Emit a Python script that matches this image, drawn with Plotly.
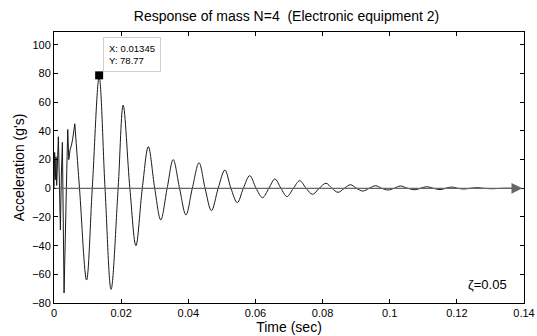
import plotly.graph_objects as go

# Early irregular transient
t_early = [0.0000, 0.0002, 0.0004, 0.0006, 0.0008, 0.0010, 0.0013, 0.0016, 0.0019,
           0.0022, 0.0025, 0.0030, 0.0034, 0.0038, 0.0041, 0.0044, 0.0048, 0.0052,
           0.0056, 0.0062]
a_early = [0, 25, 6, 22, 2, 18, 36, 5, -29, 10, 32, -73, -20, 12, 41, 20, 27, 30,
           35, 45]

# Damped oscillation: extrema and zero crossings
t_main = [0.0062, 0.0076, 0.0097, 0.0114, 0.01345, 0.0152, 0.0170, 0.0191, 0.0206,
          0.0226, 0.0244, 0.0263, 0.0281, 0.0300, 0.0318, 0.0337, 0.0355, 0.0374,
          0.0393, 0.0412, 0.0432, 0.0450, 0.0469, 0.0489, 0.0509, 0.0527, 0.0546,
          0.0564, 0.0583, 0.0602, 0.0621, 0.0640, 0.0658, 0.0676, 0.0694, 0.0713,
          0.0732, 0.0751, 0.0770, 0.0790, 0.0810, 0.0828, 0.0846, 0.0865, 0.0883,
          0.0901, 0.0920, 0.0939, 0.0958, 0.0976, 0.0995, 0.1013, 0.1032, 0.1053,
          0.1075, 0.1092, 0.1110, 0.1130, 0.1150, 0.1167, 0.1184, 0.1202, 0.1220,
          0.1240, 0.1260, 0.1280, 0.1300, 0.1340, 0.1385]
a_main = [45, 0, -64, 0, 77.5, 0, -70.5, 0, 58, 0, -40, 0, 29, 0, -22, 0, 20, 0,
          -18.6, 0, 17.8, 0, -15.6, 0, 12.7, 0, -10, 0, 8.8, 0, -6.5, 0, 6.5, 0,
          -5.8, 0, 5.3, 0, -4.2, 0, 3.5, 0, -2.8, 0, 2.5, 0, -1.9, 0, 1.8, 0,
          -1.2, 0, 1.6, 0, -1.0, 0, 1.1, 0, -0.9, 0, 0.9, 0, -0.5, 0, 0.4, 0,
          -0.3, 0, 0]

peak_t = 0.01345
peak_a = 78.77

x_ticks = [0, 0.02, 0.04, 0.06, 0.08, 0.1, 0.12, 0.14]
x_labels = ["0", "0.02", "0.04", "0.06", "0.08", "0.1", "0.12", "0.14"]
y_ticks = [-80, -60, -40, -20, 0, 20, 40, 60, 80, 100]

FONT = "Liberation Sans, Arial, sans-serif"

fig = go.Figure()
fig.add_trace(go.Scatter(x=t_early, y=a_early, mode="lines",
                         line=dict(color="#1a1a1a", width=1), hoverinfo="skip"))
fig.add_trace(go.Scatter(x=t_main, y=a_main, mode="lines",
                         line=dict(color="#1a1a1a", width=1, shape="spline",
                                   smoothing=1.0), hoverinfo="skip"))
fig.add_trace(go.Scatter(x=[peak_t], y=[peak_a], mode="markers",
                         marker=dict(symbol="square", size=8, color="black"),
                         hoverinfo="skip"))

# zero axis arrow
fig.add_annotation(x=0.1395, y=0, ax=0, ay=0, xref="x", yref="y",
                   axref="x", ayref="y", text="", showarrow=True,
                   arrowhead=2, arrowsize=1.8, arrowwidth=1.2,
                   arrowcolor="#666666")

# data tip
fig.add_annotation(x=0.0145, y=105.5, xref="x", yref="y", xanchor="left",
                   yanchor="top", showarrow=False,
                   text="X: 0.01345<br>Y: 78.77", align="left",
                   font=dict(family=FONT, size=9.5, color="black"),
                   bgcolor="white", bordercolor="#d0d0d0", borderwidth=1,
                   borderpad=5)

fig.add_annotation(x=0.1354, y=-67, xref="x", yref="y", xanchor="right",
                   yanchor="middle", showarrow=False, text="ζ=0.05",
                   font=dict(family=FONT, size=13, color="black"))

fig.update_layout(
    width=537, height=336,
    margin=dict(l=54, r=13, t=32, b=33),
    paper_bgcolor="white", plot_bgcolor="white",
    showlegend=False,
    title=dict(text="Response of mass N=4  (Electronic equipment 2)",
               x=0.5335, xanchor="center", y=0.952, yanchor="middle",
               font=dict(family=FONT, size=14, color="black")),
    font=dict(family=FONT, size=11, color="black"),
)
fig.update_xaxes(range=[0, 0.14], tickvals=x_ticks, ticktext=x_labels,
                 ticks="inside", ticklen=4, tickcolor="black",
                 showline=True, linecolor="black", linewidth=1, mirror="ticks",
                 showgrid=False, zeroline=False, automargin=False,
                 title=dict(text="Time (sec)", standoff=2,
                            font=dict(family=FONT, size=14)),
                 tickfont=dict(family=FONT, size=11))
fig.update_yaxes(range=[-80, 109], tickvals=y_ticks,
                 ticks="inside", ticklen=4, tickcolor="black",
                 showline=True, linecolor="black", linewidth=1, mirror="ticks",
                 showgrid=False, zeroline=False, automargin=False,
                 title=dict(text="Acceleration (g's)", standoff=4,
                            font=dict(family=FONT, size=14)),
                 tickfont=dict(family=FONT, size=11))

fig.write_html("out.html")
